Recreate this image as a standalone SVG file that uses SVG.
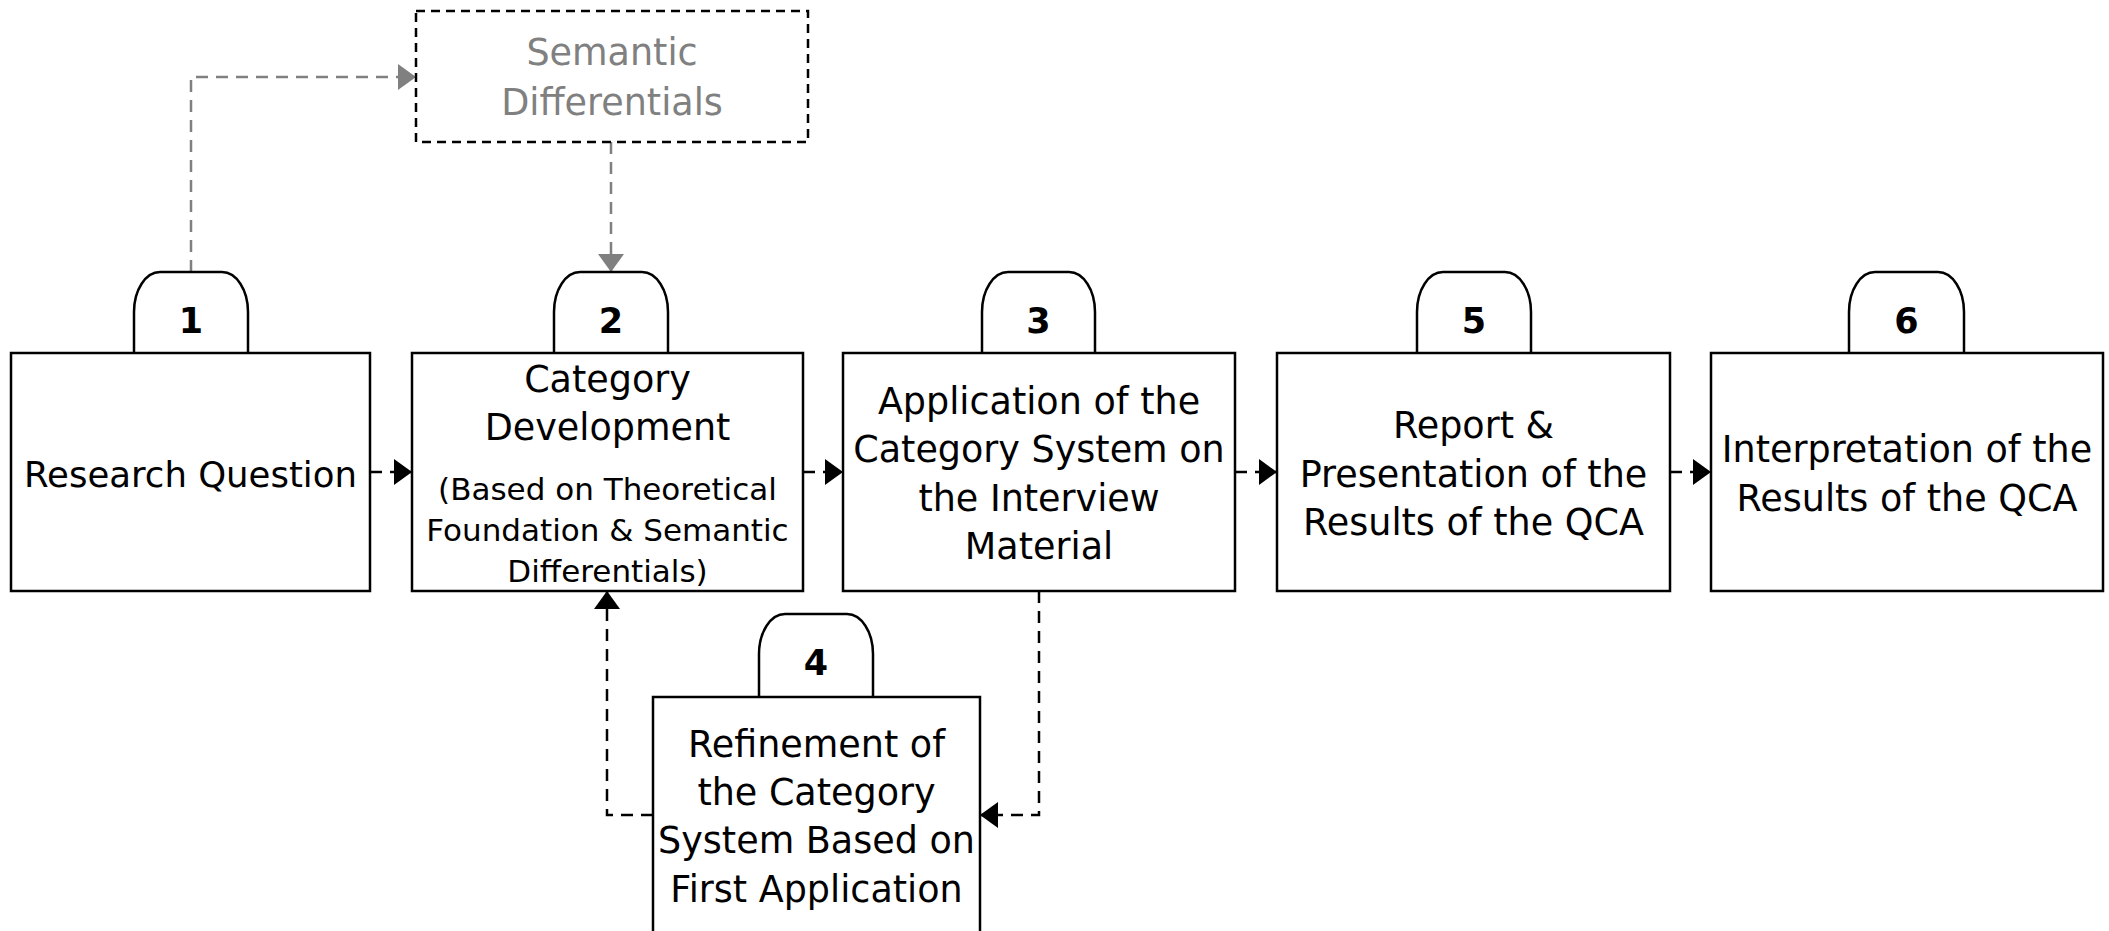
<svg xmlns="http://www.w3.org/2000/svg" width="2109" height="931" viewBox="0 0 2109 931">
<style>
.box{fill:#fff;stroke:#000;stroke-width:2.5}
.tab{fill:#fff;stroke:#000;stroke-width:2.5}
.t{font-family:'DejaVu Sans',sans-serif;font-size:36.5px;fill:#000;text-anchor:middle}
.s{font-size:31px}
.n{font-weight:bold;font-size:35px}
.g{fill:#808080}
.c{fill:none;stroke:#000;stroke-width:2.5;stroke-dasharray:12 8}
.cg{fill:none;stroke:#808080;stroke-width:2.5;stroke-dasharray:12 8}
</style>
<defs>
<marker id="ab" markerUnits="userSpaceOnUse" markerWidth="18" markerHeight="26" refX="18" refY="13" orient="auto"><path d="M0,0 L18,13 L0,26 z" fill="#000"/></marker>
<marker id="ag" markerUnits="userSpaceOnUse" markerWidth="18" markerHeight="26" refX="18" refY="13" orient="auto"><path d="M0,0 L18,13 L0,26 z" fill="#808080"/></marker>
</defs>
<rect width="2109" height="931" fill="#fff"/>

<g id="connectors">
<path class="c" d="M370,472 H412" marker-end="url(#ab)"/>
<path class="c" d="M803,472 H843" marker-end="url(#ab)"/>
<path class="c" d="M1235,472 H1277" marker-end="url(#ab)"/>
<path class="c" d="M1670,472 H1711" marker-end="url(#ab)"/>
<path class="c" d="M1039,591 V815 H980" marker-end="url(#ab)"/>
<path class="c" d="M653,815 H607 V591" marker-end="url(#ab)"/>
<path class="cg" d="M191,272 V77 H416" marker-end="url(#ag)"/>
<path class="cg" d="M611,142 V272" marker-end="url(#ag)"/>
</g>

<g id="semantic">
<rect x="416" y="11" width="392" height="131" fill="#fff" stroke="#000" stroke-width="2.5" stroke-dasharray="9 6"/>
<text class="t g" x="612" y="65">Semantic</text>
<text class="t g" x="612" y="115">Differentials</text>
</g>

<g id="node1">
<path class="tab" d="M134,353 V312 A26,40 0 0 1 160,272 H222 A26,40 0 0 1 248,312 V353"/>
<text class="t n" x="191" y="333">1</text>
<rect class="box" x="11" y="353" width="359" height="238"/>
<text class="t" x="190.5" y="487" style="font-size:35.5px">Research Question</text>
</g>

<g id="node2">
<path class="tab" d="M554,353 V312 A26,40 0 0 1 580,272 H642 A26,40 0 0 1 668,312 V353"/>
<text class="t n" x="611" y="333">2</text>
<rect class="box" x="412" y="353" width="391" height="238"/>
<text class="t" x="607.5" y="392">Category</text>
<text class="t" x="607.5" y="440">Development</text>
<text class="t s" x="607.5" y="500">(Based on Theoretical</text>
<text class="t s" x="607.5" y="541">Foundation &amp; Semantic</text>
<text class="t s" x="607.5" y="582">Differentials)</text>
</g>

<g id="node3">
<path class="tab" d="M982,353 V312 A26,40 0 0 1 1008,272 H1069 A26,40 0 0 1 1095,312 V353"/>
<text class="t n" x="1038.5" y="333">3</text>
<rect class="box" x="843" y="353" width="392" height="238"/>
<text class="t" x="1039" y="414">Application of the</text>
<text class="t" x="1039" y="462">Category System on</text>
<text class="t" x="1039" y="511">the Interview</text>
<text class="t" x="1039" y="559">Material</text>
</g>

<g id="node5">
<path class="tab" d="M1417,353 V312 A26,40 0 0 1 1443,272 H1505 A26,40 0 0 1 1531,312 V353"/>
<text class="t n" x="1474" y="333">5</text>
<rect class="box" x="1277" y="353" width="393" height="238"/>
<text class="t" x="1473.5" y="438">Report &amp;</text>
<text class="t" x="1473.5" y="487">Presentation of the</text>
<text class="t" x="1473.5" y="535">Results of the QCA</text>
</g>

<g id="node6">
<path class="tab" d="M1849,353 V312 A26,40 0 0 1 1875,272 H1938 A26,40 0 0 1 1964,312 V353"/>
<text class="t n" x="1906.5" y="333">6</text>
<rect class="box" x="1711" y="353" width="392" height="238"/>
<text class="t" x="1907" y="462">Interpretation of the</text>
<text class="t" x="1907" y="511">Results of the QCA</text>
</g>

<g id="node4">
<path class="tab" d="M759,697 V654 A26,40 0 0 1 785,614 H847 A26,40 0 0 1 873,654 V697"/>
<text class="t n" x="816" y="675">4</text>
<rect class="box" x="653" y="697" width="327" height="240"/>
<text class="t" x="816.5" y="757">Refinement of</text>
<text class="t" x="816.5" y="805">the Category</text>
<text class="t" x="816.5" y="853">System Based on</text>
<text class="t" x="816.5" y="902">First Application</text>
</g>
</svg>
